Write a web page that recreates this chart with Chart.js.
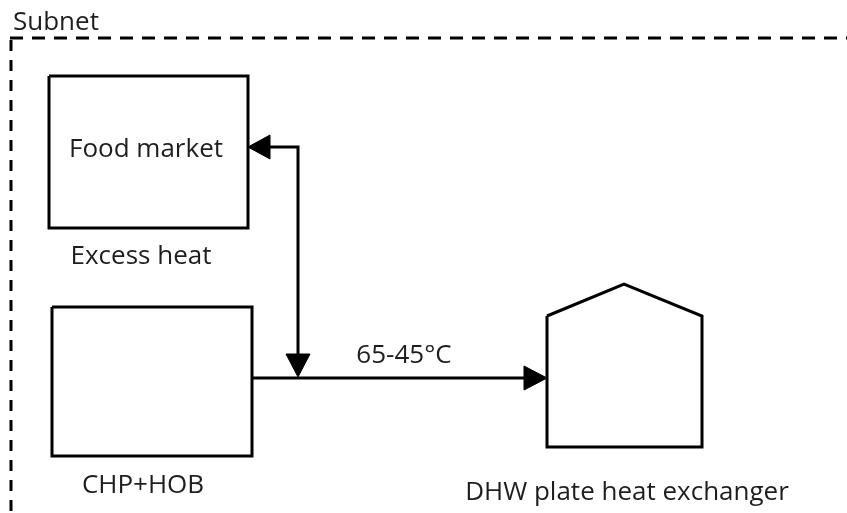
<!DOCTYPE html>
<html>
<head>
<meta charset="utf-8">
<script src="https://cdn.jsdelivr.net/npm/chart.js@4/dist/chart.umd.min.js"></script>
<style>
  html, body { margin: 0; padding: 0; background: #fff; }
  canvas { display: block; }
</style>
</head>
<body>
<canvas id="diagram" width="847" height="513"></canvas>
<script>
// Diagram data (page pixel units, y grows downwards)
const subnetTop = [{ x: 10, y: 38 }, { x: 847, y: 38 }];
const subnetLeft = [{ x: 11, y: 40 }, { x: 11, y: 513 }];
const foodBox = [{ x: 49, y: 76 }, { x: 248, y: 76 }, { x: 248, y: 228 }, { x: 49, y: 228 }, { x: 49, y: 76 }];
const chpBox = [{ x: 52, y: 307 }, { x: 252, y: 307 }, { x: 252, y: 456 }, { x: 52, y: 456 }, { x: 52, y: 307 }];
const house = [{ x: 547, y: 316 }, { x: 624, y: 284 }, { x: 702, y: 316 }, { x: 702, y: 447 }, { x: 547, y: 447 }, { x: 547, y: 316 }];
const supplyLine = [{ x: 252, y: 378 }, { x: 526, y: 378 }];
const returnLine = [{ x: 268, y: 147 }, { x: 298, y: 147 }, { x: 298, y: 356 }];
const arrowRight = [{ x: 524, y: 366 }, { x: 547, y: 378 }, { x: 524, y: 390 }, { x: 524, y: 366 }];
const arrowLeft = [{ x: 270, y: 135 }, { x: 248, y: 147 }, { x: 270, y: 159 }, { x: 270, y: 135 }];
const arrowDown = [{ x: 286, y: 354 }, { x: 298, y: 377 }, { x: 310, y: 354 }, { x: 286, y: 354 }];

const labelTexts = ['Subnet', 'Food market', 'Excess heat', 'CHP+HOB', '65-45°C', 'DHW plate heat exchanger'];
const labelX = [13, 146, 141, 143, 404, 627];
const labelY = [30, 157, 264, 493, 363, 500];
const labelAlign = ['left', 'center', 'center', 'center', 'center', 'center'];

function outline(data, width, dash) {
  return {
    data, showLine: true, borderColor: '#000', borderWidth: width,
    borderDash: dash || [], pointRadius: 0, fill: false, tension: 0
  };
}

function head(data) {
  return {
    data, showLine: true, borderColor: '#000', backgroundColor: '#000',
    borderWidth: 1, pointRadius: 0, fill: 'shape', tension: 0
  };
}

// draws the labels through the scales
const labelPlugin = {
  id: 'labels',
  afterDatasetsDraw(chart) {
    const { ctx, scales } = chart;
    ctx.save();
    ctx.fillStyle = '#1e1e1e';
    ctx.font = '26px "Open Sans"';
    ctx.textBaseline = 'alphabetic';
    labelTexts.forEach((t, i) => {
      ctx.textAlign = labelAlign[i];
      ctx.fillText(t, scales.x.getPixelForValue(labelX[i]), scales.y.getPixelForValue(labelY[i]));
    });
    ctx.restore();
  }
};

new Chart(document.getElementById('diagram'), {
  type: 'scatter',
  data: {
    datasets: [
      outline(subnetTop, 3, [13, 9]),
      outline(subnetLeft, 3, [11, 9]),
      outline(foodBox, 3),
      outline(chpBox, 3),
      outline(house, 3),
      outline(supplyLine, 3),
      outline(returnLine, 3),
      head(arrowRight),
      head(arrowLeft),
      head(arrowDown)
    ]
  },
  options: {
    responsive: false,
    animation: false,
    devicePixelRatio: 1,
    layout: { padding: 0 },
    plugins: { legend: { display: false }, tooltip: { enabled: false } },
    scales: {
      x: { type: 'linear', min: 0, max: 847, display: false },
      y: { type: 'linear', min: 0, max: 513, reverse: true, display: false }
    }
  },
  plugins: [labelPlugin]
});
</script>
</body>
</html>
